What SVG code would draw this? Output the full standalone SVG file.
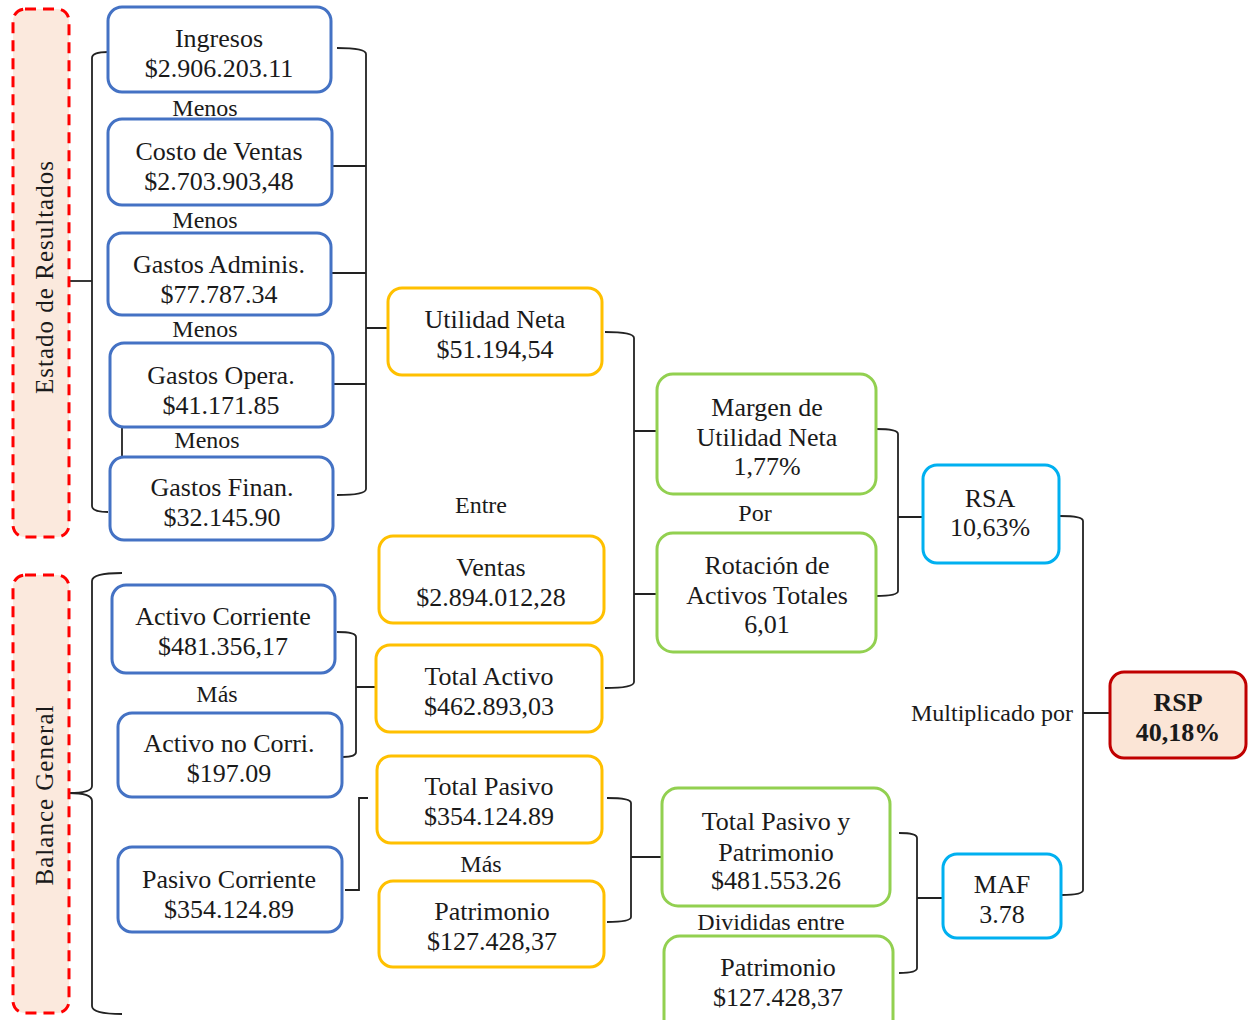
<svg xmlns="http://www.w3.org/2000/svg" width="1249" height="1020" viewBox="0 0 1249 1020">
<style>
text{font-family:"Liberation Serif","Times New Roman",serif;font-size:26px;fill:#1a1a1a;text-anchor:middle}
text.l{font-size:24px}
text.v{font-size:25px;letter-spacing:1px}
.b{fill:#fff;stroke:#4472C4;stroke-width:3}
.y{fill:#fff;stroke:#FFC000;stroke-width:3}
.g{fill:#fff;stroke:#92D050;stroke-width:3}
.c{fill:#fff;stroke:#00B0F0;stroke-width:3}
.r{fill:#FBE5D6;stroke:#C00000;stroke-width:3}
.sec{fill:#FBE9DD;stroke:#FF0000;stroke-width:3;stroke-dasharray:11 7}
.bold{font-weight:bold}
#connectors path{fill:none;stroke:#222;stroke-width:1.8}
</style>
<rect width="1249" height="1020" fill="#fff"/>
<g id="connectors">
<path d="M108,52 Q92,52 92,58 V506 Q92,512 108,512"/>
<path d="M69,281 H92"/>
<path d="M337,48 Q366,48 366,54 V489 Q366,495 337,495"/>
<path d="M332,166 H366 M332,273 H366 M333,384 H366 M366,328 H390"/>
<path d="M122,427 V457"/>
<path d="M122,573 Q92,573 92,581 V786 Q92,793 69,793 Q92,793 92,801 V1006 Q92,1014 122,1014"/>
<path d="M337,632 Q356,632 356,637 V752 Q356,757 343,757 M356,687 H376"/>
<path d="M368,798 H359 V890 H345"/>
<path d="M605,332 Q634,332 634,338 V682 Q634,688 605,688 M634,431 H657 M634,594 H657"/>
<path d="M607,798 Q631,798 631,803 V917 Q631,922 607,922 M631,857 H662"/>
<path d="M876,429 Q898,429 898,434 V591 Q898,596 876,596 M898,517 H923"/>
<path d="M899,833 Q917,833 917,838 V968 Q917,973 899,973 M917,898 H943"/>
<path d="M1060,516 Q1083,516 1083,521 V890 Q1083,895 1062,895 M1083,713 H1110"/>
</g>
<g id="estado-de-resultados">
<rect class="sec" x="13" y="9" width="56" height="528" rx="12"/>
<text class="v" transform="translate(53,277) rotate(-90)">Estado de Resultados</text>
</g>
<g id="balance-general">
<rect class="sec" x="13" y="575" width="56" height="438" rx="12"/>
<text class="v" transform="translate(53,795) rotate(-90)">Balance General</text>
</g>
<g id="ingresos">
<rect class="b" x="108" y="7" width="223" height="85" rx="14"/>
<text x="219" y="47">Ingresos</text><text x="219" y="77">$2.906.203.11</text>
</g>
<text class="l" x="205" y="116">Menos</text>
<g id="costo-ventas">
<rect class="b" x="108" y="119" width="224" height="86" rx="14"/>
<text x="219" y="160">Costo de Ventas</text><text x="219" y="190">$2.703.903,48</text>
</g>
<text class="l" x="205" y="228">Menos</text>
<g id="gastos-adminis">
<rect class="b" x="108" y="233" width="223" height="82" rx="14"/>
<text x="219" y="273">Gastos Adminis.</text><text x="219" y="303">$77.787.34</text>
</g>
<text class="l" x="205" y="337">Menos</text>
<g id="gastos-opera">
<rect class="b" x="110" y="343" width="223" height="84" rx="14"/>
<text x="221" y="384">Gastos Opera.</text><text x="221" y="414">$41.171.85</text>
</g>
<text class="l" x="207" y="448">Menos</text>
<g id="gastos-finan">
<rect class="b" x="110" y="457" width="223" height="83" rx="14"/>
<text x="222" y="496">Gastos Finan.</text><text x="222" y="526">$32.145.90</text>
</g>
<g id="utilidad-neta">
<rect class="y" x="388" y="288" width="214" height="87" rx="14"/>
<text x="495" y="328">Utilidad Neta</text><text x="495" y="358">$51.194,54</text>
</g>
<text class="l" x="481" y="513">Entre</text>
<g id="ventas">
<rect class="y" x="379" y="536" width="225" height="87" rx="14"/>
<text x="491" y="576">Ventas</text><text x="491" y="606">$2.894.012,28</text>
</g>
<g id="total-activo">
<rect class="y" x="376" y="645" width="226" height="87" rx="14"/>
<text x="489" y="685">Total Activo</text><text x="489" y="715">$462.893,03</text>
</g>
<g id="total-pasivo">
<rect class="y" x="377" y="756" width="225" height="87" rx="14"/>
<text x="489" y="795">Total Pasivo</text><text x="489" y="825">$354.124.89</text>
</g>
<text class="l" x="481" y="872">Más</text>
<g id="patrimonio">
<rect class="y" x="379" y="881" width="225" height="86" rx="14"/>
<text x="492" y="920">Patrimonio</text><text x="492" y="950">$127.428,37</text>
</g>
<g id="activo-corriente">
<rect class="b" x="112" y="585" width="223" height="88" rx="14"/>
<text x="223" y="625">Activo Corriente</text><text x="223" y="655">$481.356,17</text>
</g>
<text class="l" x="217" y="702">Más</text>
<g id="activo-no-corriente">
<rect class="b" x="118" y="713" width="224" height="84" rx="14"/>
<text x="229" y="752">Activo no Corri.</text><text x="229" y="782">$197.09</text>
</g>
<g id="pasivo-corriente">
<rect class="b" x="118" y="847" width="224" height="85" rx="14"/>
<text x="229" y="888">Pasivo Corriente</text><text x="229" y="918">$354.124.89</text>
</g>
<g id="margen-utilidad">
<rect class="g" x="657" y="374" width="219" height="120" rx="16"/>
<text x="767" y="416">Margen de</text><text x="767" y="446">Utilidad Neta</text><text x="767" y="475">1,77%</text>
</g>
<text class="l" x="755" y="521">Por</text>
<g id="rotacion-activos">
<rect class="g" x="657" y="533" width="219" height="119" rx="16"/>
<text x="767" y="574">Rotación de</text><text x="767" y="604">Activos Totales</text><text x="767" y="633">6,01</text>
</g>
<g id="rsa">
<rect class="c" x="923" y="465" width="136" height="98" rx="14"/>
<text x="990" y="507">RSA</text><text x="990" y="536">10,63%</text>
</g>
<text class="l" x="992" y="721">Multiplicado por</text>
<g id="rsp">
<rect class="r" x="1110" y="672" width="136" height="86" rx="14"/>
<text class="bold" x="1178" y="711">RSP</text><text class="bold" x="1178" y="741">40,18%</text>
</g>
<g id="total-pasivo-patrimonio">
<rect class="g" x="662" y="788" width="228" height="118" rx="16"/>
<text x="776" y="830">Total Pasivo y</text><text x="776" y="861">Patrimonio</text><text x="776" y="889">$481.553.26</text>
</g>
<text class="l" x="771" y="930">Divididas entre</text>
<g id="patrimonio-2">
<rect class="g" x="664" y="936" width="229" height="100" rx="16"/>
<text x="778" y="976">Patrimonio</text><text x="778" y="1006">$127.428,37</text>
</g>
<g id="maf">
<rect class="c" x="943" y="854" width="118" height="84" rx="14"/>
<text x="1002" y="893">MAF</text><text x="1002" y="923">3.78</text>
</g>
</svg>
